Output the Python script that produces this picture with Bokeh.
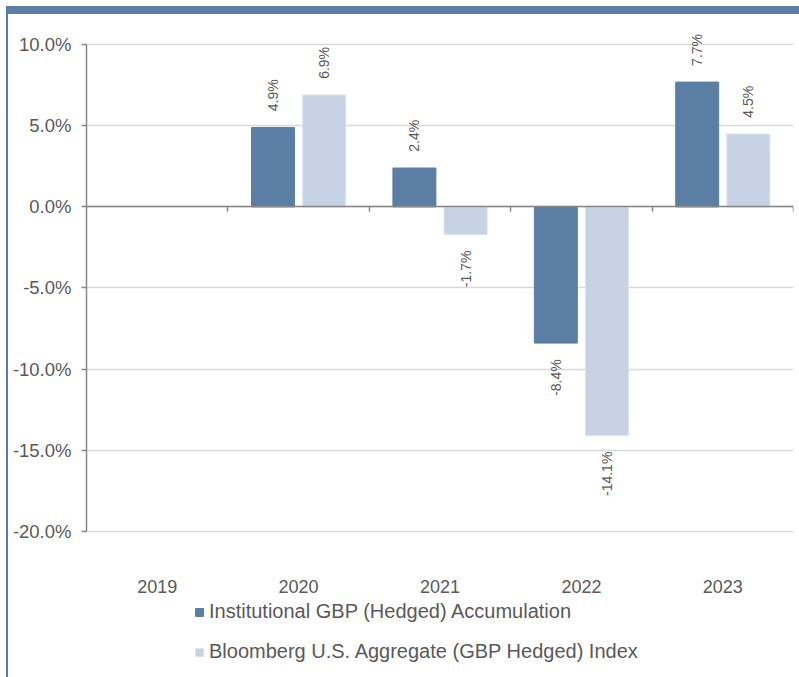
import math
from bokeh.plotting import figure
from bokeh.models import (ColumnDataSource, Range1d, LinearAxis, FixedTicker,
                          PrintfTickFormatter, Legend, LegendItem)
from bokeh.core.properties import value
from bokeh.embed import file_html
from bokeh.resources import INLINE

# ---- data ----
years = ["2019", "2020", "2021", "2022", "2023"]
fund_values = [float("nan"), 4.9, 2.4, -8.4, 7.7]
index_values = [float("nan"), 6.9, -1.7, -14.1, 4.5]
series_names = ["Institutional GBP (Hedged) Accumulation",
                "Bloomberg U.S. Aggregate (GBP Hedged) Index"]
y_ticks = [-20, -15, -10, -5, 0, 5, 10]

DARK = "#5b7fa4"
LIGHT = "#c5d3e4"
GREY_TXT = "#595959"
FONT = "Liberation Sans"

n = len(years)
centers = [i + 0.5 for i in range(n)]

# figure placed at (6,6); frame spans page x 86..793, page y 20..670
p = figure(width=793, height=671, x_range=Range1d(0, n), y_range=Range1d(-28.6, 11.5),
           x_axis_location=None, output_backend="svg", toolbar_location=None,
           min_border_left=80, min_border_right=6, min_border_top=14, min_border_bottom=7)
p.styles = {"margin-left": "6px", "margin-top": "6px",
            "box-shadow": "inset 2px 8px 0 0 #5b7fa4"}
p.border_fill_alpha = 0
p.background_fill_color = "white"
p.outline_line_color = None
p.xgrid.grid_line_color = None
p.ygrid.ticker = FixedTicker(ticks=y_ticks)
p.ygrid.grid_line_color = "#d9d9d9"
p.ygrid.grid_line_width = 1.5

# y axis
ya = p.yaxis[0]
ya.ticker = FixedTicker(ticks=y_ticks)
ya.bounds = (-20, 10)
ya.formatter = PrintfTickFormatter(format="%.1f%%")
ya.axis_line_color = "#868686"
ya.axis_line_width = 1.5
ya.major_tick_line_color = "#868686"
ya.major_tick_line_width = 1.5
ya.major_tick_out = 5
ya.major_tick_in = 0
ya.minor_tick_line_color = None
ya.major_label_text_font = FONT
ya.major_label_text_font_size = "18.5px"
ya.major_label_text_color = GREY_TXT
ya.major_label_standoff = 10

# zero axis with ticks at category boundaries
za = LinearAxis(ticker=FixedTicker(ticks=list(range(1, n + 1))))
za.fixed_location = 0
za.axis_line_color = "#868686"
za.axis_line_width = 1.5
za.major_tick_line_color = "#868686"
za.major_tick_line_width = 1.5
za.major_tick_out = 0
za.major_tick_in = 5
za.minor_tick_line_color = None
za.major_label_text_font_size = "0px"
za.major_label_text_alpha = 0
za.major_label_standoff = 0
p.add_layout(za, "above")

OFF = 0.181
W = 0.304

src = ColumnDataSource(dict(
    x1=[c - OFF for c in centers], x2=[c + OFF for c in centers],
    fund=fund_values, index=index_values))
r1 = p.vbar(x="x1", top="fund", bottom=0, width=W, source=src,
            fill_color=DARK, line_color=DARK)
r2 = p.vbar(x="x2", top="index", bottom=0, width=W, source=src,
            fill_color=LIGHT, line_color="#dbe3ee")

def label_source(vals, off):
    xs, ys, ts, al = [], [], [], []
    for c, v in zip(centers, vals):
        if v != v:
            continue
        xs.append(c + off)
        ys.append(v + 1.0 if v >= 0 else v - 1.0)
        ts.append(f"{v:.1f}%")
        al.append("left" if v >= 0 else "right")
    return ColumnDataSource(dict(x=xs, y=ys, text=ts, align=al))

for vals, off in ((fund_values, -OFF), (index_values, OFF)):
    p.text(x="x", y="y", text="text", source=label_source(vals, off),
           angle=math.pi / 2, text_align="align", text_baseline="middle",
           text_font=value(FONT), text_font_size="14px", text_color=GREY_TXT)

# category labels below the -20% line
cat_src = ColumnDataSource(dict(x=centers, y=[-20 - 3.4] * n, text=years))
p.text(x="x", y="y", text="text", source=cat_src, text_align="center",
       text_baseline="middle", text_font=value(FONT), text_font_size="18px",
       text_color=GREY_TXT)

legend = Legend(items=[LegendItem(label=series_names[0], renderers=[r1]),
                       LegendItem(label=series_names[1], renderers=[r2])],
                location=(108, 7), orientation="vertical",
                padding=0, margin=0, spacing=17, label_height=20,
                glyph_width=10, glyph_height=10, label_standoff=5,
                label_text_font=FONT, label_text_font_size="20px", label_text_color=GREY_TXT,
                background_fill_alpha=0, border_line_color=None)
p.add_layout(legend, "center")

open("out.html", "w").write(file_html(p, INLINE))
